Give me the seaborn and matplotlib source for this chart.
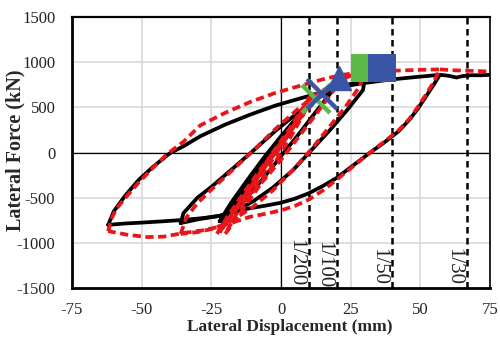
import numpy as np
import pandas as pd
import matplotlib
matplotlib.use("Agg")
import matplotlib.pyplot as plt
import seaborn as sns

# ---------------- data ----------------
# Experimental (black) hysteresis branches
exp_s1_x = [-21, -16, -10, -4, 2, 7, 11, 8, 3, -3, -9, -15, -21]
exp_s1_y = [-760, -560, -320, -80, 170, 400, 600, 480, 260, 20, -230, -480, -760]
exp_l2_x = [-22, -18, -12, -6, 0, 6, 12, 17, 20, 18.6, 12, 6, 0, -4, -10, -16, -22]
exp_l2_y = [-760, -560, -300, -50, 180, 400, 600, 720, 770, 690, 430, 190, -40, -195, -420, -600, -760]
exp_l3_x = [-36, -35, -30, -25, -18, -10, -2, 6, 13, 20, 25, 30,
            29.4, 24, 17.6, 11, 4.3, -3, -10, -16, -22, -30, -36]
exp_l3_y = [-780, -670, -500, -380, -195, 20, 240, 440, 600, 710, 760, 800,
            690, 480, 250, 30, -195, -390, -540, -640, -700, -740, -780]
exp_l4_x = [-62, -60, -56, -51, -46, -40, -35, -29, -20, -11, -2, 7, 15, 22, 30, 40, 50, 57,
            55, 52, 49, 46, 42, 37, 32, 26, 20, 15, 10, 5, 0, -6, -11, -16, -22, -28, -35, -42, -50, -56, -62]
exp_l4_y = [-800, -650, -480, -300, -160, -10, 70, 180, 310, 420, 520, 600, 670, 730, 770, 810, 840, 860,
            760, 620, 480, 360, 230, 110, 0, -140, -280, -370, -450, -510, -555, -590, -615, -650, -700, -725, -745, -760, -775, -785, -800]
exp_push_x = [57, 60, 63, 65, 68, 72, 75]
exp_push_y = [860, 850, 830, 845, 855, 855, 860]

# Analytical (red dashed) hysteresis branches
ana_s1_x = [-22, -17, -11, -5, 1, 6, 11, 8, 3, -3, -9, -15, -22]
ana_s1_y = [-880, -660, -400, -130, 130, 380, 650, 500, 260, 0, -290, -560, -880]
ana_s2_x = [-20, -14, -8, -2, 4, 9, 12, 7, 1, -5, -11, -16, -20]
ana_s2_y = [-900, -640, -380, -100, 200, 480, 640, 400, 120, -170, -450, -680, -900]
ana_l2_x = [-23, -19, -13, -7, 0, 6, 12, 17, 21, 18, 12, 6, 0, -6, -12, -18, -23]
ana_l2_y = [-900, -700, -430, -170, 110, 350, 560, 700, 800, 650, 400, 160, -80, -300, -500, -700, -900]
ana_l3_x = [-36, -34, -30, -25, -18, -10, -2, 6, 13, 20, 25, 30,
            28, 23, 17, 11, 4, -3, -10, -17, -24, -30, -36]
ana_l3_y = [-900, -720, -560, -410, -210, 20, 260, 480, 650, 780, 850, 880,
            720, 500, 270, 40, -200, -420, -600, -740, -840, -880, -900]
ana_l4_x = [-62, -61, -59, -55, -51, -46, -41, -35, -29, -20, -11, -2, 7, 15, 22, 30, 40, 50, 57,
            55, 52, 49, 46, 42, 37, 32, 26, 20, 15, 10, 5, 0, -6, -11, -16, -22, -28, -35, -42, -48, -55, -62]
ana_l4_y = [-870, -740, -620, -470, -330, -170, -20, 120, 300, 440, 560, 660, 740, 810, 860, 890, 905, 915, 920,
            790, 640, 500, 370, 240, 120, 0, -150, -300, -420, -520, -590, -640, -680, -710, -760, -820, -860, -890, -930, -935, -910, -870]
ana_push_x = [57, 62, 67, 72, 75]
ana_push_y = [920, 910, 905, 900, 895]

# Drift-ratio reference lines
drift_x = [10, 20, 40, 66.7]
drift_labels = ["1/200", "1/100", "1/50", "1/30"]
drift_label_top = [-960, -980, -1060, -1060]

# Key-point markers
green_x_pt = (12.4, 592)
blue_x_pt = (14.6, 648)
blue_tri_pt = (20.8, 825)
green_sq_pt = (30.0, 935)
blue_sq_pt = (36.3, 935)

x_ticks = [-75, -50, -25, 0, 25, 50, 75]
y_ticks = [-1500, -1000, -500, 0, 500, 1000, 1500]

# ---------------- build long-form table ----------------
branches = {
    ("Experiment", "s1"): (exp_s1_x, exp_s1_y),
    ("Experiment", "l2"): (exp_l2_x, exp_l2_y),
    ("Experiment", "l3"): (exp_l3_x, exp_l3_y),
    ("Experiment", "l4"): (exp_l4_x, exp_l4_y),
    ("Experiment", "push"): (exp_push_x, exp_push_y),
    ("Analysis", "s1"): (ana_s1_x, ana_s1_y),
    ("Analysis", "s2"): (ana_s2_x, ana_s2_y),
    ("Analysis", "l2"): (ana_l2_x, ana_l2_y),
    ("Analysis", "l3"): (ana_l3_x, ana_l3_y),
    ("Analysis", "l4"): (ana_l4_x, ana_l4_y),
    ("Analysis", "push"): (ana_push_x, ana_push_y),
}
rows = []
for (series, br), (xs, ys) in branches.items():
    for i, (xv, yv) in enumerate(zip(xs, ys)):
        rows.append({"series": series, "branch": series + br, "order": i, "x": xv, "y": yv})
df = pd.DataFrame(rows)

# ---------------- plot ----------------
sns.set_theme(style="white")
plt.rcParams["font.family"] = ["Liberation Serif", "DejaVu Serif"]
plt.rcParams["axes.unicode_minus"] = False

fig = plt.figure(figsize=(5.0, 3.39), dpi=100)
ax = fig.add_axes([0.144, 0.150, 0.836, 0.800])

ax.set_xlim(-75, 75)
ax.set_ylim(-1500, 1500)
ax.set_xticks(x_ticks)
ax.set_yticks(y_ticks)
ax.grid(True, color="#d6d6d6", lw=1.1, zorder=0)
ax.set_axisbelow(True)
ax.axhline(0, color="black", lw=0.9, zorder=1)
ax.axvline(0, color="black", lw=0.9, zorder=1)

for xv in drift_x:
    ax.axvline(xv, color="black", lw=1.8, dashes=(2.6, 1.8), zorder=2)

exp_df = df[df["series"] == "Experiment"]
ana_df = df[df["series"] == "Analysis"]
sns.lineplot(data=exp_df, x="x", y="y", units="branch", estimator=None, sort=False,
             color="black", lw=2.7, ax=ax, zorder=3, legend=False)
sns.lineplot(data=ana_df, x="x", y="y", units="branch", estimator=None, sort=False,
             color="#e8161b", lw=2.7, ax=ax, zorder=4, legend=False)
for line in ax.lines[-len(ana_df["branch"].unique()):]:
    line.set_dashes((2.2, 1.2))

green = "#5cb947"
blue = "#3a55a6"
ax.plot(*green_x_pt, marker="x", ms=20, mew=3.2, color=green, zorder=6, ls="none")
ax.plot(*blue_x_pt, marker="x", ms=21, mew=3.2, color=blue, zorder=6, ls="none")
ax.plot(*blue_tri_pt, marker="^", ms=17, color=blue, zorder=6, ls="none")
ax.plot(*green_sq_pt, marker="s", ms=19.5, color=green, mew=0, zorder=6, ls="none")
ax.plot(*blue_sq_pt, marker="s", ms=19.5, color=blue, mew=0, zorder=7, ls="none")

for xv, lab, top in zip(drift_x, drift_labels, drift_label_top):
    ax.text(xv - 4.8, top, lab, rotation=270, ha="center", va="top",
            fontsize=15, color="#222222", clip_on=True, zorder=5)

for side in ["left", "bottom", "top", "right"]:
    ax.spines[side].set_color("black")
    ax.spines[side].set_visible(True)
ax.spines["left"].set_linewidth(2.0)
ax.spines["bottom"].set_linewidth(2.0)
ax.spines["top"].set_linewidth(1.6)
ax.spines["right"].set_linewidth(1.2)

ax.tick_params(axis="x", which="both", length=0, labelsize=12, pad=10, colors="#222222")
ax.tick_params(axis="y", which="both", length=0, labelsize=12, pad=12, colors="#222222")
ax.set_xlabel("Lateral Displacement (mm)", fontsize=12.5, fontweight="bold", va="top")
ax.set_ylabel("Lateral Force (kN)", fontsize=14.5, fontweight="bold")
ax.xaxis.set_label_coords(0.52, -0.112)
ax.yaxis.set_label_coords(-0.112, 0.509)

fig.savefig("out.png", dpi=100)
